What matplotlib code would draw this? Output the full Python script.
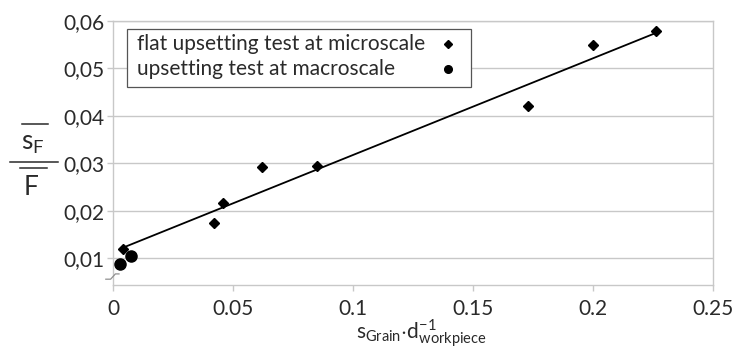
"""
Flow stress scatter: relative std. dev. of flow stress vs grain size / workpiece size.
Micro (diamonds) and macro (circles) upsetting tests with linear trend line.
"""
import matplotlib
matplotlib.use("Agg")
import matplotlib.pyplot as plt
from matplotlib.lines import Line2D
from matplotlib.patches import Rectangle
from matplotlib.ticker import FixedLocator, FixedFormatter

# data
micro_x = [0.004, 0.042, 0.0457, 0.0619, 0.0851, 0.1728, 0.2002, 0.2263]
micro_y = [0.0119, 0.0175, 0.0217, 0.0292, 0.0294, 0.0421, 0.0549, 0.0578]
macro_x = [0.003, 0.0075]
macro_y = [0.00875, 0.0104]
trend_x = [0.0037, 0.2263]
trend_y = [0.0121, 0.0575]

xticks = [0, 0.05, 0.1, 0.15, 0.2, 0.25]
xtick_labels = ["0", "0.05", "0.1", "0.15", "0.2", "0.25"]
yticks = [0.01, 0.02, 0.03, 0.04, 0.05, 0.06]
ytick_labels = ["0,01", "0,02", "0,03", "0,04", "0,05", "0,06"]
legend_labels = ["flat upsetting test at microscale", "upsetting test at macroscale"]

plt.rcParams["font.family"] = ["Lato", "DejaVu Sans"]
plt.rcParams["mathtext.fontset"] = "custom"
plt.rcParams["mathtext.rm"] = "Lato"
plt.rcParams["mathtext.it"] = "Lato"
plt.rcParams["mathtext.sf"] = "Lato"

W, H = 740, 349
grey = "#c8c8c8"
txt = "#2a2a2a"


def fx(px):
    return px / W


def fy(py):
    return 1 - py / H


fig = plt.figure(figsize=(7.4, 3.49), dpi=100)
ax = fig.add_axes([fx(113), fy(285), fx(713) - fx(113), fy(21) - fy(285)])

ax.set_xlim(0, 0.25)
ax.set_ylim(0.00432, 0.06)

# gridlines
for yv in yticks:
    ax.axhline(yv, color=grey, lw=1.0, zorder=0)

ax.plot(trend_x, trend_y, color="black", lw=1.3, zorder=2)
ax.plot(micro_x, micro_y, ls="none", marker="D", ms=4.8, color="black", zorder=3)
ax.plot(macro_x, macro_y, ls="none", marker="o", ms=8, color="black", zorder=3)

for s in ax.spines.values():
    s.set_color(grey)
    s.set_linewidth(1.0)

ax.xaxis.set_major_locator(FixedLocator(xticks))
ax.xaxis.set_major_formatter(FixedFormatter(xtick_labels))
ax.yaxis.set_major_locator(FixedLocator(yticks))
ax.yaxis.set_major_formatter(FixedFormatter(ytick_labels))
ax.tick_params(axis="both", colors=grey, labelcolor=txt, labelsize=15,
               length=4, width=1.0)
ax.tick_params(axis="y", pad=2)
ax.tick_params(axis="x", pad=6)

# little axis break on the y axis
ax.plot([-0.012, -0.004, 0.004, 0.01], [0.022, 0.022, 0.042, 0.042],
        transform=ax.transAxes, color="#909090", lw=0.9, clip_on=False, zorder=5)

# legend drawn by hand: text left, marker at the right
fig.patches.append(Rectangle((fx(127), fy(87)), fx(471) - fx(127), fy(29) - fy(87),
                             transform=fig.transFigure, fill=True, facecolor="white",
                             edgecolor="#555555", lw=0.9, zorder=4))
leg_rows = [44, 69]
leg_marks = [("D", 4.2), ("o", 5.5)]
for lab, row, (mk, ms) in zip(legend_labels, leg_rows, leg_marks):
    fig.text(fx(137), fy(row), lab, fontsize=15, color=txt, ha="left", va="center",
             zorder=5)
    fig.lines.append(Line2D([fx(448)], [fy(row)], marker=mk, ms=ms, color="black",
                            ls="none", transform=fig.transFigure, zorder=5))

# x label
fig.text(fx(421), fy(339), r"$\mathregular{s_{Grain}{\cdot}d^{-1}_{workpiece}}$",
         fontsize=15, color=txt, ha="center", va="baseline")

# y label: overline(s_F) / overline(F)
fig.text(fx(33), fy(150), r"$\mathregular{s_F}$", fontsize=19, color=txt,
         ha="center", va="baseline")
fig.text(fx(31), fy(195), "F", fontsize=19, color=txt, ha="center", va="baseline")
for x0, x1, yy in [(22, 48, 124), (10, 58, 162), (20, 47, 168)]:
    fig.lines.append(Line2D([fx(x0), fx(x1)], [fy(yy), fy(yy)], color=txt, lw=1.1,
                            transform=fig.transFigure))

fig.savefig("out.png", dpi=100)
